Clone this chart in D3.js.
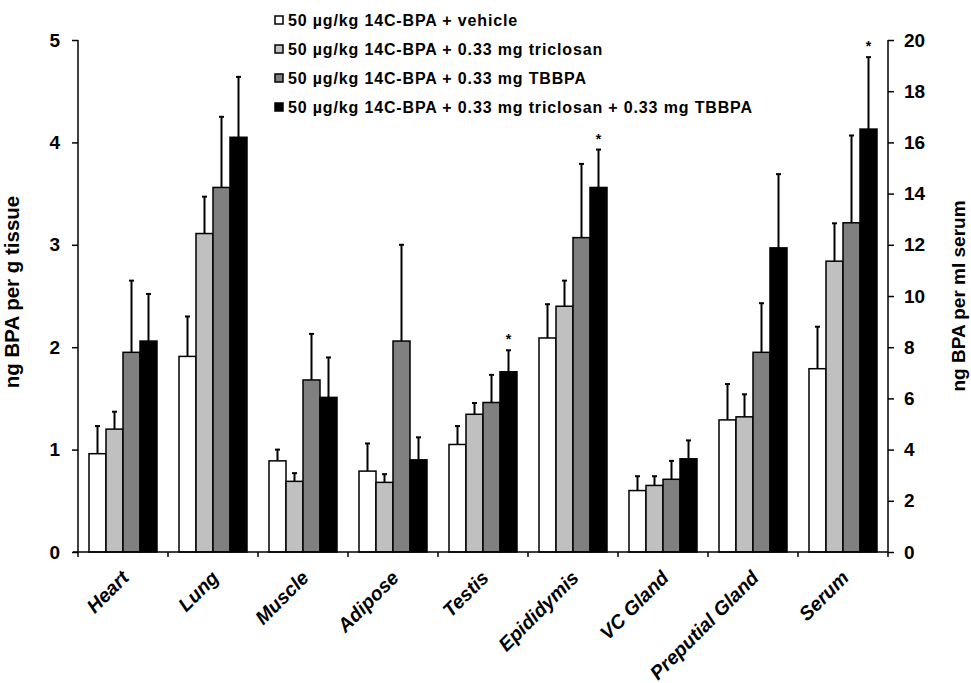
<!DOCTYPE html>
<html>
<head>
<meta charset="utf-8">
<script src="https://cdn.jsdelivr.net/npm/d3@7/dist/d3.min.js"></script>
<style>
  html, body { margin: 0; padding: 0; background: #fff; }
  svg { display: block; font-family: "Liberation Sans", Arial, sans-serif; }
</style>
</head>
<body>
<svg id="chart" width="971" height="683"></svg>
<script>
// ---- data ----
const categories = ["Heart", "Lung", "Muscle", "Adipose", "Testis", "Epididymis", "VC Gland", "Preputial Gland", "Serum"];
// which axis each category is read on (Serum uses the right axis, ng/ml)
const categoryAxis = ["left", "left", "left", "left", "left", "left", "left", "left", "right"];
const seriesNames = [
  "50 µg/kg 14C-BPA + vehicle",
  "50 µg/kg 14C-BPA + 0.33 mg triclosan",
  "50 µg/kg 14C-BPA + 0.33 mg TBBPA",
  "50 µg/kg 14C-BPA + 0.33 mg triclosan + 0.33 mg TBBPA"
];
const seriesColors = ["#ffffff", "#c0c0c0", "#808080", "#000000"];

const vehicleMean   = [0.96, 1.91, 0.89, 0.79, 1.05, 2.09, 0.60, 1.29, 7.16];
const vehicleErr    = [0.27, 0.39, 0.11, 0.27, 0.18, 0.33, 0.14, 0.35, 1.64];
const triclosanMean = [1.20, 3.11, 0.69, 0.68, 1.345, 2.40, 0.65, 1.32, 11.36];
const triclosanErr  = [0.17, 0.36, 0.08, 0.08, 0.11, 0.25, 0.09, 0.22, 1.48];
const tbbpaMean     = [1.95, 3.56, 1.68, 2.06, 1.46, 3.07, 0.71, 1.95, 12.86];
const tbbpaErr      = [0.70, 0.69, 0.45, 0.94, 0.27, 0.72, 0.18, 0.48, 3.41];
const comboMean     = [2.06, 4.05, 1.51, 0.90, 1.76, 3.56, 0.91, 2.97, 16.52];
const comboErr      = [0.46, 0.59, 0.39, 0.22, 0.21, 0.37, 0.18, 0.72, 2.81];
const comboSignificant = [false, false, false, false, true, true, false, false, true];

const leftTicks = [0, 1, 2, 3, 4, 5];
const rightTicks = [0, 2, 4, 6, 8, 10, 12, 14, 16, 18, 20];
const leftTitle = "ng BPA per g tissue";
const rightTitle = "ng BPA per ml serum";

const means = [vehicleMean, triclosanMean, tbbpaMean, comboMean];
const errs = [vehicleErr, triclosanErr, tbbpaErr, comboErr];
const signif = [null, null, null, comboSignificant];

// ---- layout ----
const svg = d3.select("#chart");
const x0Left = 78, x0Right = 888, yTop = 40, yBase = 552;

const x0 = d3.scaleBand().domain(categories).range([x0Left, x0Right]).paddingInner(0).paddingOuter(0);
const x1 = d3.scaleBand().domain(d3.range(4)).range([11, x0.bandwidth() - 11]).padding(0);
const yL = d3.scaleLinear().domain([0, 5]).range([yBase, yTop]);
const yR = d3.scaleLinear().domain([0, 20]).range([yBase, yTop]);
const yFor = i => categoryAxis[i] === "right" ? yR : yL;

const rows = [];
means.forEach((arr, s) => arr.forEach((v, i) => rows.push({ s, i, v, e: errs[s][i], sig: signif[s] ? signif[s][i] : false })));

const g = svg.append("g");
rows.forEach(d => {
  const y = yFor(d.i);
  const cx = x0(categories[d.i]) + x1(d.s) + x1.bandwidth() / 2;
  g.append("line").attr("x1", cx).attr("x2", cx).attr("y1", y(d.v)).attr("y2", y(d.v + d.e))
    .attr("stroke", "#000").attr("stroke-width", 2);
  g.append("line").attr("x1", cx - 2.5).attr("x2", cx + 2.5).attr("y1", y(d.v + d.e)).attr("y2", y(d.v + d.e))
    .attr("stroke", "#000").attr("stroke-width", 2);
  if (d.sig) {
    g.append("text").attr("x", cx).attr("y", y(d.v + d.e) - 6).attr("text-anchor", "middle")
      .attr("font-size", 14).attr("font-weight", "bold").text("*");
  }
});
rows.forEach(d => {
  const y = yFor(d.i);
  g.append("rect")
    .attr("x", x0(categories[d.i]) + x1(d.s))
    .attr("y", y(d.v))
    .attr("width", x1.bandwidth())
    .attr("height", yBase - y(d.v))
    .attr("fill", seriesColors[d.s])
    .attr("stroke", "#000").attr("stroke-width", 1.5);
});

// axes
const axL = svg.append("g").attr("transform", `translate(${x0Left},0)`)
  .call(d3.axisLeft(yL).tickValues(leftTicks).tickSize(6).tickPadding(12).tickFormat(d3.format("d")));
const axR = svg.append("g").attr("transform", `translate(${x0Right},0)`)
  .call(d3.axisRight(yR).tickValues(rightTicks).tickSize(6).tickPadding(10).tickFormat(d3.format("d")));
[axL, axR].forEach(a => {
  a.select(".domain").attr("d", `M0,${yTop}V${yBase}`).attr("stroke-width", 1.5);
  a.selectAll(".tick line").attr("stroke-width", 1.5);
  a.selectAll(".tick text").attr("font-size", 19).attr("font-weight", "bold").attr("fill", "#000")
    .attr("font-family", "Liberation Sans, Arial, sans-serif");
});

// x axis
const axX = svg.append("g").attr("transform", `translate(0,${yBase})`);
axX.append("line").attr("x1", x0Left - 5).attr("x2", x0Right).attr("y1", 0).attr("y2", 0)
  .attr("stroke", "#000").attr("stroke-width", 1.5);
const boundaries = categories.map(c => x0(c)).concat([x0Right]);
axX.selectAll("line.tk").data(boundaries).join("line").attr("class", "tk")
  .attr("x1", d => d).attr("x2", d => d).attr("y1", 0).attr("y2", 5)
  .attr("stroke", "#000").attr("stroke-width", 1.5);
svg.append("g").selectAll("text").data(categories).join("text")
  .attr("transform", d => `translate(${x0(d) + x0.bandwidth() / 2 + 7},${yBase + 27}) rotate(-45)`)
  .attr("text-anchor", "end")
  .attr("font-size", 19.5).attr("font-weight", "bold").attr("font-style", "italic")
  .text(d => d);

// axis titles
svg.append("text").attr("transform", `translate(19,${(yTop + yBase) / 2 - 4}) rotate(-90)`)
  .attr("text-anchor", "middle").attr("font-size", 20.5).attr("font-weight", "bold").text(leftTitle);
svg.append("text").attr("transform", `translate(965,${(yTop + yBase) / 2}) rotate(-90)`)
  .attr("text-anchor", "middle").attr("font-size", 19).attr("font-weight", "bold").text(rightTitle);

// legend
const leg = svg.append("g").attr("transform", "translate(275,0)");
const legY = [20, 49, 78, 107];
seriesNames.forEach((n, s) => {
  leg.append("rect").attr("x", 0).attr("y", legY[s] - 4).attr("width", 8).attr("height", 8)
    .attr("fill", seriesColors[s]).attr("stroke", "#000").attr("stroke-width", 1.5);
  leg.append("text").attr("x", 13).attr("y", legY[s] + 6)
    .attr("font-size", 16).attr("font-weight", "bold").attr("letter-spacing", 0.85).text(n);
});
</script>
</body>
</html>
